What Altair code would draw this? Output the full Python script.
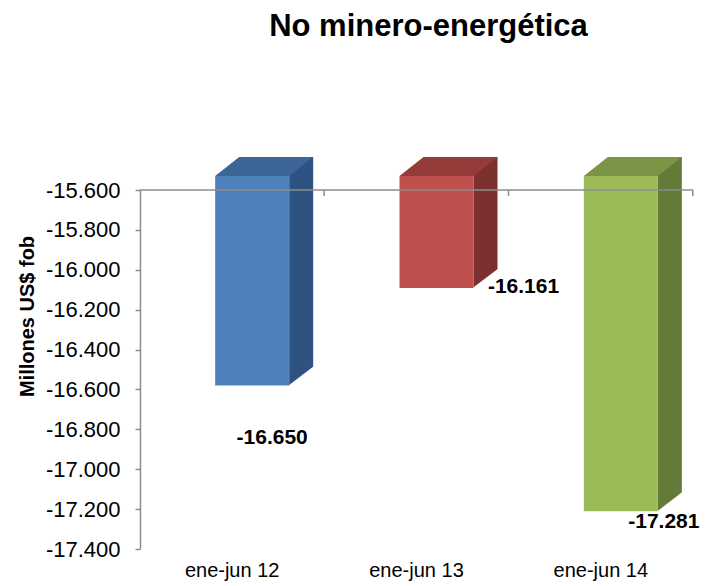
import altair as alt
import pandas as pd

categories = ["ene-jun 12", "ene-jun 13", "ene-jun 14"]
values = [-16650, -16161, -17281]
base_value = -15600
y_ticks = [-17400, -17200, -17000, -16800, -16600, -16400, -16200, -16000, -15800, -15600]
front_colors = ["#4F81BD", "#C0504D", "#9BBB59"]
side_colors = ["#2F5381", "#7C302F", "#647A38"]
top_colors = ["#3C6698", "#943C3A", "#7B9546"]

FONT = "Liberation Sans"
GRAY = "#8C8C8C"

df = pd.DataFrame({
    "cat": categories,
    "value": values,
    "base": [base_value] * len(categories),
    "front": front_colors,
    "side": side_colors,
    "top": top_colors,
})

label_expr = "'-' + replace(format(abs(datum.value), ',d'), ',', '.')"

yscale = alt.Scale(domain=[-17400, -15600], nice=False, zero=False)
yaxis = alt.Axis(
    values=y_ticks, labelExpr=label_expr, title="Millones US$ fob",
    titleFontSize=20, titleFontWeight="bold", titleFont=FONT, titleColor="black",
    titleX=-107, titleY=126, titleAngle=270, titleAlign="center", titleBaseline="alphabetic",
    labelFont=FONT, labelFontSize=22, labelColor="black", labelPadding=15,
    domainColor=GRAY, domainWidth=1.5, tickColor=GRAY, tickSize=5, tickWidth=1.5, grid=False,
)
xaxis = alt.Axis(
    title=None, domain=False, ticks=False, labelAngle=0, labelFont=FONT,
    labelFontSize=20, labelColor="black", labelPadding=11, grid=False,
)
X = alt.X("cat:N", sort=categories, scale=alt.Scale(paddingInner=0, paddingOuter=0), axis=xaxis)


def Y(field):
    return alt.Y(field, type="quantitative", scale=yscale, axis=yaxis)


base = alt.Chart(df)

side = base.mark_bar(width=24, xOffset=69, yOffset=-14, y2Offset=-33).encode(
    x=X, y=Y("value"), y2="base:Q", color=alt.Color("side:N", scale=None)
)

tri_path = "M -1.05 0.79 L 1.1 -0.85 L 1.1 0.95 L -1.05 0.95 Z"
cut = base.mark_point(
    shape=tri_path, size=576, filled=True, opacity=1, strokeWidth=0,
    color="white", xOffset=69, yOffset=-23.5
).encode(x=X, y=Y("value"))

front = base.mark_bar(width=74, xOffset=20, yOffset=-14, y2Offset=-14).encode(
    x=X, y=Y("value"), y2="base:Q", color=alt.Color("front:N", scale=None)
)

top_path = "M -1 0.194 L 0.51 0.194 L 1 -0.194 L -0.51 -0.194 Z"
top = base.mark_point(
    shape=top_path, size=9604, filled=True, opacity=1, strokeWidth=0,
    xOffset=32, yOffset=-23.5
).encode(x=X, y=Y("base"), color=alt.Color("top:N", scale=None))

hline = alt.Chart(pd.DataFrame({"base": [base_value]})).mark_rule(
    color=GRAY, strokeWidth=1.5
).encode(y=Y("base"), x=alt.value(0), x2=alt.value(553))

ticks = base.mark_rule(color=GRAY, strokeWidth=1.5, xOffset=92, yOffset=0, y2Offset=6).encode(
    x=X, y=Y("base"), y2="base:Q"
)

lab_base = base.transform_calculate(label=label_expr)
label_offsets = [(40, 39), (107, -15), (63, -3)]
labels = []
for cat, (dx, dy) in zip(categories, label_offsets):
    labels.append(
        lab_base.transform_filter(alt.datum.cat == cat).mark_text(
            dx=dx, dy=dy, font=FONT, fontSize=21, fontWeight="bold", color="black",
            align="center", baseline="middle"
        ).encode(x=X, y=Y("value"), text="label:N")
    )

chart = alt.layer(side, cut, front, top, hline, ticks, *labels).properties(
    width=553, height=359,
    title=alt.TitleParams(
        "No minero-energética", font=FONT, fontSize=31, fontWeight="bold", color="black",
        anchor="middle", dx=12, offset=114, frame="group"
    ),
    autosize=alt.AutoSizeParams(type="none"),
    padding={"left": 132, "top": 182, "right": 7, "bottom": 33},
).configure_view(strokeWidth=0)

chart.save("out.html", embed_options={"renderer": "svg", "actions": False})
